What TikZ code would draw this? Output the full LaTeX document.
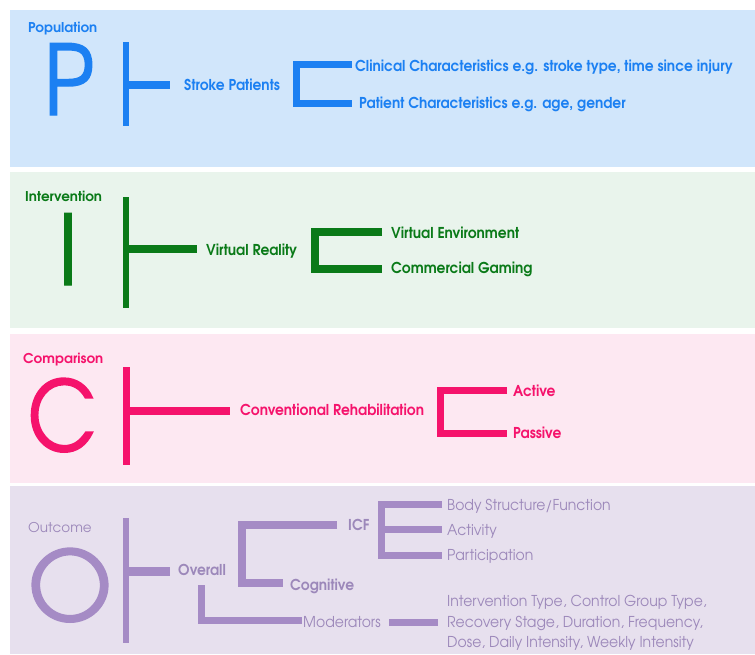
\documentclass[tikz,border=0pt]{standalone}
\usepackage{fontspec}
\setmainfont{texgyreadventor}[Extension=.otf, UprightFont=*-regular, BoldFont=*-bold]
% slightly condensed faces for the branch labels and the large letters
\newfontfamily\lblfont{texgyreadventor}[Extension=.otf, UprightFont=*-regular,
  BoldFont=*-bold, FakeStretch=0.92]
\newfontfamily\lblrfont{texgyreadventor}[Extension=.otf, UprightFont=*-regular,
  BoldFont=*-bold, FakeStretch=0.935]
\newfontfamily\bigfont{texgyreadventor}[Extension=.otf, UprightFont=*-regular,
  BoldFont=*-bold, FakeStretch=0.87, FakeBold=1.5]
\newfontfamily\roundfont{texgyreadventor}[Extension=.otf, UprightFont=*-regular,
  BoldFont=*-bold, FakeBold=1.5]

\definecolor{pblue}{HTML}{1C80F2}
\definecolor{pbg}{HTML}{D1E6FB}
\definecolor{igreen}{HTML}{0A7A18}
\definecolor{ibg}{HTML}{E9F4EC}
\definecolor{cpink}{HTML}{F5136C}
\definecolor{cbg}{HTML}{FDE8F2}
\definecolor{opurp}{HTML}{A58BC5}
\definecolor{otext}{HTML}{9C88BA}
\definecolor{obg}{HTML}{E7E0EE}

\tikzset{
  lbl/.style={inner sep=0pt, anchor=west, text height=11pt, text depth=0pt,
    font=\lblfont\fontsize{15}{18}\selectfont\bfseries},
  lblr/.style={lbl, font=\lblrfont\fontsize{15}{18}\selectfont},
  ttl/.style={inner sep=0pt, anchor=west, text height=10pt, text depth=0pt,
    font=\fontsize{13.5}{16}\selectfont\bfseries},
  ttlr/.style={ttl, font=\fontsize{13.5}{16}\selectfont},
  big/.style={inner sep=0pt, text height=72pt, text depth=0pt,
    font=\bigfont\fontsize{97}{97}\selectfont},
  bar/.style={line cap=butt, line join=miter},
}

\begin{document}
\begin{tikzpicture}[x=1pt, y=-1pt]
\useasboundingbox (0,0) rectangle (755,654);
\fill[white] (0,0) rectangle (755,654);

% ---------- Population ----------
\fill[pbg] (10,10) rectangle (755,167);
\begin{scope}[every node/.append style={text=pblue}, draw=pblue]
  \node[ttl] (ptitle) at (28,27) {Population};
  \node[big] (pletter) at (69,79) {P};
  \draw[bar, line width=6pt] (126,42) -- (126,126);
  \draw[bar, line width=8pt] (129,85) -- (170,85);
  \node[lbl] (pstroke) at (184,85) {Stroke Patients};
  \node[lbl] (pclin) at (355,66) {Clinical Characteristics e.g. stroke type, time since injury};
  \node[lbl] (ppat) at (359,103) {Patient Characteristics e.g. age, gender};
  \draw[bar, line width=7pt] (352,64.5) -- (296.5,64.5) -- (296.5,103.5) -- (352,103.5);
\end{scope}

% ---------- Intervention ----------
\fill[ibg] (10,172) rectangle (755,328);
\begin{scope}[every node/.append style={text=igreen}, draw=igreen]
  \node[ttl] (ititle) at (25,196) {Intervention};
  \node[big] (iletter) at (68,249) {I};
  \draw[bar, line width=6pt] (126,197) -- (126,308);
  \draw[bar, line width=8pt] (129,249) -- (197,249);
  \node[lbl] (ivr) at (206,250) {Virtual Reality};
  \node[lbl] (ive) at (391,233) {Virtual Environment};
  \node[lbl] (icg) at (391,268) {Commercial Gaming};
  \draw[bar, line width=8pt] (382,232) -- (315,232) -- (315,269) -- (382,269);
\end{scope}

% ---------- Comparison ----------
\fill[cbg] (10,334) rectangle (755,483);
\begin{scope}[every node/.append style={text=cpink}, draw=cpink]
  \node[ttl] (ctitle) at (23,358) {Comparison};
  \node[big] (cletter) at (62,415) {C};
  \draw[bar, line width=7pt] (126.5,367) -- (126.5,465);
  \draw[bar, line width=8pt] (130,411) -- (230,411);
  \node[lbl] (crehab) at (240,410) {Conventional Rehabilitation};
  \node[lbl] (cact) at (513,391) {Active};
  \node[lbl] (cpas) at (513,433) {Passive};
  \draw[bar, line width=7pt] (507,390) -- (440,390) -- (440,433) -- (507,433);
\end{scope}

% ---------- Outcome ----------
\fill[obg] (10,486) rectangle (755,654);
\begin{scope}[every node/.append style={text=otext}, draw=opurp]
  \node[ttlr] (otitle) at (28,527) {Outcome};
  \node[big, text=opurp, font=\roundfont\fontsize{97}{97}\selectfont] (oletter) at (70,585) {O};
  \draw[bar, line width=6pt] (126,518) -- (126,643);
  \draw[bar, line width=9pt] (129,571) -- (170,571);
  \node[lbl] (oall) at (178,570) {Overall};
  % lower branch
  \draw[bar, line width=7pt] (201,585) -- (201,620) -- (302,620);
  \node[lblr] (omod) at (303,622) {Moderators};
  \draw[bar, line width=7pt] (389,622) -- (438,622);
  \node[inner sep=0pt, anchor=west, align=left,
    font=\lblrfont\fontsize{15}{20.5}\selectfont] (omodlist) at (447,623)
    {Intervention Type, Control Group Type,\\
     Recovery Stage, Duration, Frequency,\\
     Dose, Daily Intensity, Weekly Intensity};
  % upper branch
  \draw[bar, line width=8pt] (337,525) -- (242,525) -- (242,583) -- (283,583);
  \node[lbl] (oicf) at (348,525) {ICF};
  \node[lbl] (ocog) at (290,585) {Cognitive};
  \draw[bar, line width=7pt] (442,504) -- (381.5,504) -- (381.5,555) -- (442,555);
  \draw[bar, line width=7pt] (381.5,529) -- (442,529);
  \node[lblr] (obody) at (447,505) {Body Structure/Function};
  \node[lblr] (oact) at (447,530) {Activity};
  \node[lblr] (opart) at (447,555) {Participation};
\end{scope}
\end{tikzpicture}
\end{document}
